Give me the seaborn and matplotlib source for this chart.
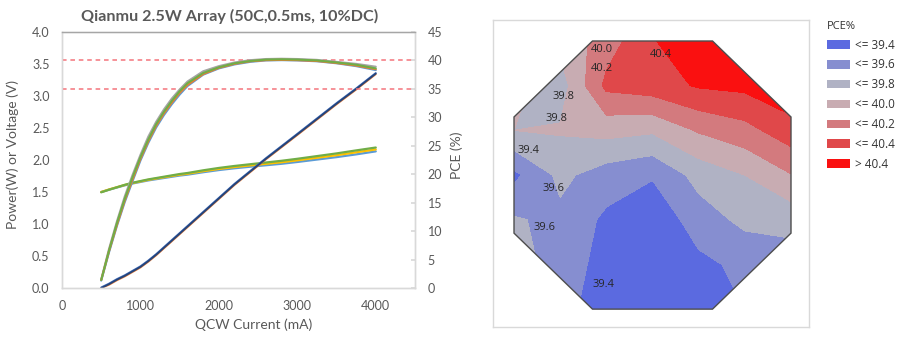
import numpy as np
import pandas as pd
import matplotlib
matplotlib.use("Agg")
import matplotlib.pyplot as plt
import seaborn as sns
from matplotlib.patches import Polygon, Patch

# ---------------- data: left chart ----------------
current_mA = [500, 600, 700, 800, 900, 1000, 1100, 1200, 1300, 1400, 1500, 1600,
              1800, 2000, 2200, 2400, 2600, 2800, 3000, 3250, 3500, 3750, 4000]

# PCE (%) of several devices
pce_dev_b = [1.3, 6.3, 10.9, 15.1, 18.8, 22.4, 25.5, 28.2, 30.4, 32.3, 34.0, 35.5,
             37.5, 38.6, 39.3, 39.75, 40.0, 40.05, 40.0, 39.85, 39.5, 39.0, 38.3]
pce_dev_c = [1.5, 6.9, 11.7, 16.1, 19.9, 23.4, 26.6, 29.2, 31.4, 33.3, 34.9, 36.3,
             38.1, 39.0, 39.65, 40.05, 40.25, 40.3, 40.25, 40.1, 39.75, 39.4, 38.9]
pce_dev_d = [1.4, 6.5, 11.1, 15.4, 19.1, 22.7, 25.8, 28.5, 30.7, 32.6, 34.3, 35.7,
             37.6, 38.7, 39.4, 39.85, 40.05, 40.1, 40.05, 39.9, 39.55, 39.1, 38.45]
pce_dev_a = [1.4, 6.6, 11.4, 15.7, 19.5, 23.0, 26.1, 28.8, 31.0, 32.9, 34.6, 36.0,
             37.8, 38.8, 39.5, 39.9, 40.15, 40.2, 40.15, 40.0, 39.65, 39.25, 38.6]

# Optical power (W)
power_dev_b = [0.00, 0.05, 0.12, 0.18, 0.25, 0.32, 0.41, 0.51, 0.62, 0.73, 0.84, 0.95,
               1.17, 1.39, 1.61, 1.81, 2.01, 2.20, 2.39, 2.63, 2.87, 3.10, 3.34]
power_dev_c = [0.01, 0.07, 0.14, 0.20, 0.27, 0.34, 0.43, 0.53, 0.64, 0.75, 0.86, 0.97,
               1.19, 1.41, 1.63, 1.83, 2.03, 2.22, 2.41, 2.65, 2.89, 3.12, 3.36]
power_dev_a = [0.00, 0.06, 0.13, 0.19, 0.26, 0.33, 0.42, 0.52, 0.63, 0.74, 0.85, 0.96,
               1.18, 1.40, 1.62, 1.82, 2.02, 2.21, 2.40, 2.64, 2.88, 3.11, 3.35]

# Voltage (V)
volt_dev_b = [1.50, 1.536, 1.570, 1.604, 1.633, 1.657, 1.681, 1.700, 1.719, 1.738, 1.757, 1.771,
              1.809, 1.843, 1.871, 1.895, 1.918, 1.941, 1.969, 2.007, 2.045, 2.088, 2.135]
volt_dev_a = [1.50, 1.54, 1.575, 1.61, 1.64, 1.665, 1.69, 1.71, 1.73, 1.75, 1.77, 1.785,
              1.825, 1.86, 1.89, 1.915, 1.94, 1.965, 1.995, 2.035, 2.075, 2.12, 2.165]
volt_dev_c = [1.495, 1.536, 1.574, 1.612, 1.645, 1.671, 1.697, 1.718, 1.739, 1.760, 1.781, 1.797,
              1.839, 1.876, 1.907, 1.934, 1.961, 1.988, 2.019, 2.061, 2.103, 2.150, 2.195]

pce_reference_lines = [40, 35]

# ---------------- data: right chart (PCE map) ----------------
map_cols = [0, 1, 2, 3, 4, 5, 6]
map_rows = [0, 1, 2, 3, 4, 5, 6]
pce_map_row0 = [39.80, 39.85, 40.10, 40.38, 40.60, 40.70, 40.80]
pce_map_row1 = [39.85, 39.70, 40.25, 40.31, 40.42, 40.45, 40.55]
pce_map_row2 = [39.80, 39.82, 39.87, 39.83, 40.02, 40.13, 40.32]
pce_map_row3 = [39.35, 39.65, 39.50, 39.42, 39.67, 39.80, 39.99]
pce_map_row4 = [39.62, 39.55, 39.36, 39.25, 39.50, 39.65, 39.67]
pce_map_row5 = [39.70, 39.50, 39.33, 39.25, 39.35, 39.45, 39.50]
pce_map_row6 = [39.60, 39.45, 39.32, 39.30, 39.30, 39.40, 39.45]

band_edges = [39.0, 39.4, 39.6, 39.8, 40.0, 40.2, 40.4, 41.5]
band_labels = ["<= 39.4", "<= 39.6", "<= 39.8", "<= 40.0", "<= 40.2", "<= 40.4", "> 40.4"]
contour_label_text = ["40.0", "40.2", "40.4", "39.8", "39.8", "39.4", "39.6", "39.6", "39.4"]
contour_label_x = [1.91, 1.91, 3.18, 1.08, 0.93, 0.32, 0.86, 0.66, 1.93]
contour_label_y = [0.20, 0.61, 0.31, 1.25, 1.73, 2.44, 3.31, 4.17, 5.44]

# ---------------- styling ----------------
sns.set_theme(style="white")
plt.rcParams['font.family'] = ['Lato', 'DejaVu Sans']
TXT = '#595959'

band_colors = ['#5B6AE0', '#868ED0', '#B0B2C4', '#C8ACB2', '#D37A7E', '#E0484A', '#FA1010']

fig = plt.figure(figsize=(9, 3.41), dpi=100)
W, H = 900, 341

# ---------------- left chart ----------------
ax = fig.add_axes([62 / W, 1 - 288 / H, 353 / W, 256 / H])
ax2 = ax.twinx()

n = len(current_mA)

volt_df = pd.DataFrame({
    'current': current_mA * 3,
    'value': volt_dev_b + volt_dev_a + volt_dev_c,
    'device': ['b'] * n + ['a'] * n + ['c'] * n,
})
power_df = pd.DataFrame({
    'current': current_mA * 3,
    'value': power_dev_b + power_dev_c + power_dev_a,
    'device': ['b'] * n + ['c'] * n + ['a'] * n,
})
pce_df = pd.DataFrame({
    'current': current_mA * 4,
    'value': pce_dev_b + pce_dev_c + pce_dev_d + pce_dev_a,
    'device': ['b'] * n + ['c'] * n + ['d'] * n + ['a'] * n,
})

sns.lineplot(data=volt_df, x='current', y='value', hue='device',
             palette=['#5B9BD5', '#FFC000', '#70AD47'], ax=ax, legend=False,
             linewidth=1.6, estimator=None)
sns.lineplot(data=power_df, x='current', y='value', hue='device',
             palette=['#ED7D31', '#4472C4', '#264478'], ax=ax, legend=False,
             linewidth=1.3, estimator=None)
sns.lineplot(data=pce_df, x='current', y='value', hue='device',
             palette=['#5B9BD5', '#A5A5A5', '#ED7D31', '#70AD47'], ax=ax2, legend=False,
             linewidth=1.5, estimator=None)
for v in pce_reference_lines:
    ax2.axhline(v, color='#F4747C', lw=1.1, ls=(0, (3, 2.5)), zorder=1)

ax.set_xlim(0, 4500)
ax.set_ylim(0, 4)
ax2.set_ylim(0, 45)
ax.set_xticks([0, 1000, 2000, 3000, 4000])
ax.set_yticks(np.arange(0, 4.01, 0.5))
ax.set_yticklabels([f"{t:.1f}" for t in np.arange(0, 4.01, 0.5)])
ax2.set_yticks(np.arange(0, 46, 5))

ax.tick_params(axis='x', direction='in', length=3, color='#D9D9D9', labelsize=9,
               labelcolor=TXT, pad=9)
ax.tick_params(axis='y', length=0, labelsize=9, labelcolor=TXT, pad=9)
ax2.tick_params(axis='y', direction='in', length=3, color='#D9D9D9', labelsize=9,
                labelcolor=TXT, pad=9)

for a in (ax, ax2):
    for s in a.spines.values():
        s.set_color('#D9D9D9')
        s.set_linewidth(1.0)
ax2.spines['top'].set_color('#A6A6A6')

ax.set_xlabel('QCW Current (mA)', fontsize=10, color=TXT)
ax.xaxis.set_label_coords((254 - 62) / 353, (288 - 318) / 256)
ax.set_ylabel('Power(W) or Voltage (V)', fontsize=10, color=TXT)
ax.yaxis.set_label_coords((19 - 62) / 353, 0.52)
ax2.set_ylabel('PCE (%)', fontsize=10, color=TXT)
ax2.yaxis.set_label_coords((450 - 62) / 353, 0.52)

fig.text(230 / W, 1 - 16 / H, 'Qianmu 2.5W Array (50C,0.5ms, 10%DC)', ha='center',
         va='center', fontsize=11.6, fontweight='bold', color=TXT)

# ---------------- right chart ----------------
axm = fig.add_axes([493 / W, 1 - 327 / H, 316 / W, 307 / H])
Z = np.array([pce_map_row0, pce_map_row1, pce_map_row2, pce_map_row3,
              pce_map_row4, pce_map_row5, pce_map_row6])
GX, GY = np.meshgrid(map_cols, map_rows)
cs = axm.contourf(GX, GY, Z, levels=band_edges, colors=band_colors)

c0, c1 = 1.7, 4.3
octagon = Polygon([(c0, 0), (c1, 0), (6, c0), (6, c1), (c1, 6), (c0, 6), (0, c1), (0, c0)],
                  closed=True, facecolor='none', edgecolor='#4D4D4D', lw=1.0,
                  transform=axm.transData, zorder=3)
axm.add_patch(octagon)
cs.set_clip_path(octagon)

for t, x, y in zip(contour_label_text, contour_label_x, contour_label_y):
    axm.text(x, y, t, ha='center', va='center', fontsize=8, color='#262626',
             family=['Open Sans', 'DejaVu Sans'], zorder=4)

axm.set_xlim(-0.455, 6.39)
axm.set_ylim(6.40, -0.47)
axm.set_xticks([])
axm.set_yticks([])
for s in axm.spines.values():
    s.set_color('#D9D9D9')
    s.set_linewidth(1.0)

handles = [Patch(facecolor=c, edgecolor='none') for c in band_colors]
leg = fig.legend(handles, band_labels, title='PCE%', loc='upper left',
                 bbox_to_anchor=(822 / W, 1 - 16 / H), frameon=False,
                 prop={'family': ['Open Sans', 'DejaVu Sans'], 'size': 8.5},
                 title_fontproperties={'family': ['Open Sans', 'DejaVu Sans'], 'size': 8},
                 handlelength=2.0, handleheight=0.75, labelspacing=0.58,
                 handletextpad=0.4, alignment='left', borderaxespad=0)
for txt in leg.get_texts():
    txt.set_color('#333333')
leg.get_title().set_color('#333333')

fig.savefig('out.png', dpi=100)
